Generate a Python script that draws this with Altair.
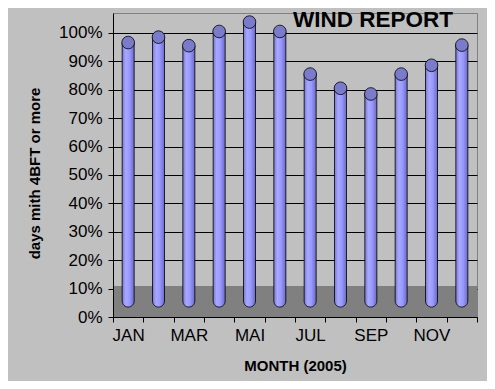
import altair as alt
import pandas as pd

months = ["JAN", "FEB", "MAR", "APR", "MAI", "JUN", "JUL", "AUG", "SEP", "OKT", "NOV", "DEZ"]
values = [0.966, 0.985, 0.955, 1.005, 1.038, 1.005, 0.855, 0.805, 0.785, 0.855, 0.886, 0.957]
shown_labels = ["JAN", "MAR", "MAI", "JUL", "SEP", "NOV"]
y_ticks = [0, 0.1, 0.2, 0.3, 0.4, 0.5, 0.6, 0.7, 0.8, 0.9, 1.0]
base_value = 0.035
floor_top = 0.109

df = pd.DataFrame({"month": months, "value": values, "base": [base_value] * len(months)})

W, H = 364, 304
FONT = "Liberation Sans"

xscale = alt.Scale(domain=months, paddingInner=0, paddingOuter=0)
yscale = alt.Scale(domain=[0, 1.07], nice=False)

label_expr = "indexof(" + str(shown_labels).replace('"', "'") + ", datum.value) >= 0 ? datum.label : ''"

x_axis = alt.Axis(
    title="MONTH (2005)", labelExpr=label_expr, labelAngle=0, tickBand="extent",
    tickSize=5, tickColor="black", domainColor="black", labelFontSize=17,
    labelColor="black", labelPadding=5, titleFontSize=15, titleFontWeight="bold",
    titleColor="black", titleY=48, titleBaseline="middle", zindex=1, grid=False,
)
y_axis = alt.Axis(
    title="days mith 4BFT or more", values=y_ticks, format=".0%", tickSize=5,
    tickColor="black", domainColor="black", gridColor="black", grid=True,
    labelFontSize=17, labelColor="black", labelPadding=6, titleFontSize=15,
    titleFontWeight="bold", titleColor="black", titleX=-79, titleY=160,
    titleBaseline="middle", titleAlign="center", zindex=0,
)

floor = alt.Chart(pd.DataFrame({"a": [0]})).mark_rect(color="#808080").encode(
    y=alt.datum(0.0, scale=yscale, axis=y_axis, type="quantitative"),
    y2=alt.datum(floor_top),
    x=alt.value(1),
    x2=alt.value(W),
)

grad = alt.Gradient(
    gradient="linear", x1=0, x2=1, y1=0, y2=0,
    stops=[
        alt.GradientStop(color="#7878d4", offset=0),
        alt.GradientStop(color="#a8a8ff", offset=0.3),
        alt.GradientStop(color="#9999ff", offset=0.6),
        alt.GradientStop(color="#6a6ac4", offset=1),
    ],
)

bars = alt.Chart(df).mark_bar(
    color=grad, stroke="black", strokeWidth=0.8, size=12,
    cornerRadiusBottomLeft=6, cornerRadiusBottomRight=6,
).encode(
    x=alt.X("month:N", scale=xscale, axis=x_axis, sort=months),
    y=alt.Y("base:Q", scale=yscale, axis=y_axis),
    y2="value:Q",
)

caps = alt.Chart(df).mark_point(
    shape="circle", filled=True, fill="#7b7bcc", stroke="black", strokeWidth=0.8,
    size=160, opacity=1,
).encode(
    x=alt.X("month:N", scale=xscale, axis=x_axis, sort=months),
    y=alt.Y("value:Q", scale=yscale, axis=y_axis),
)

title = alt.Chart(pd.DataFrame({"t": ["WIND REPORT"]})).mark_text(
    font=FONT, fontSize=22.5, fontWeight="bold", color="black", align="center",
    baseline="alphabetic",
).encode(text="t:N", x=alt.value(260), y=alt.value(14))

chart = alt.layer(floor, bars, caps, title).properties(
    width=W, height=H,
    background="#c0c0c0",
    padding={"left": 105, "top": 5, "right": 10, "bottom": 64},
    autosize=alt.AutoSizeParams(type="none"),
).configure(font=FONT).configure_view(stroke="#808080", strokeWidth=1)

chart.save("out.html", embed_options={"renderer": "svg", "actions": False})
